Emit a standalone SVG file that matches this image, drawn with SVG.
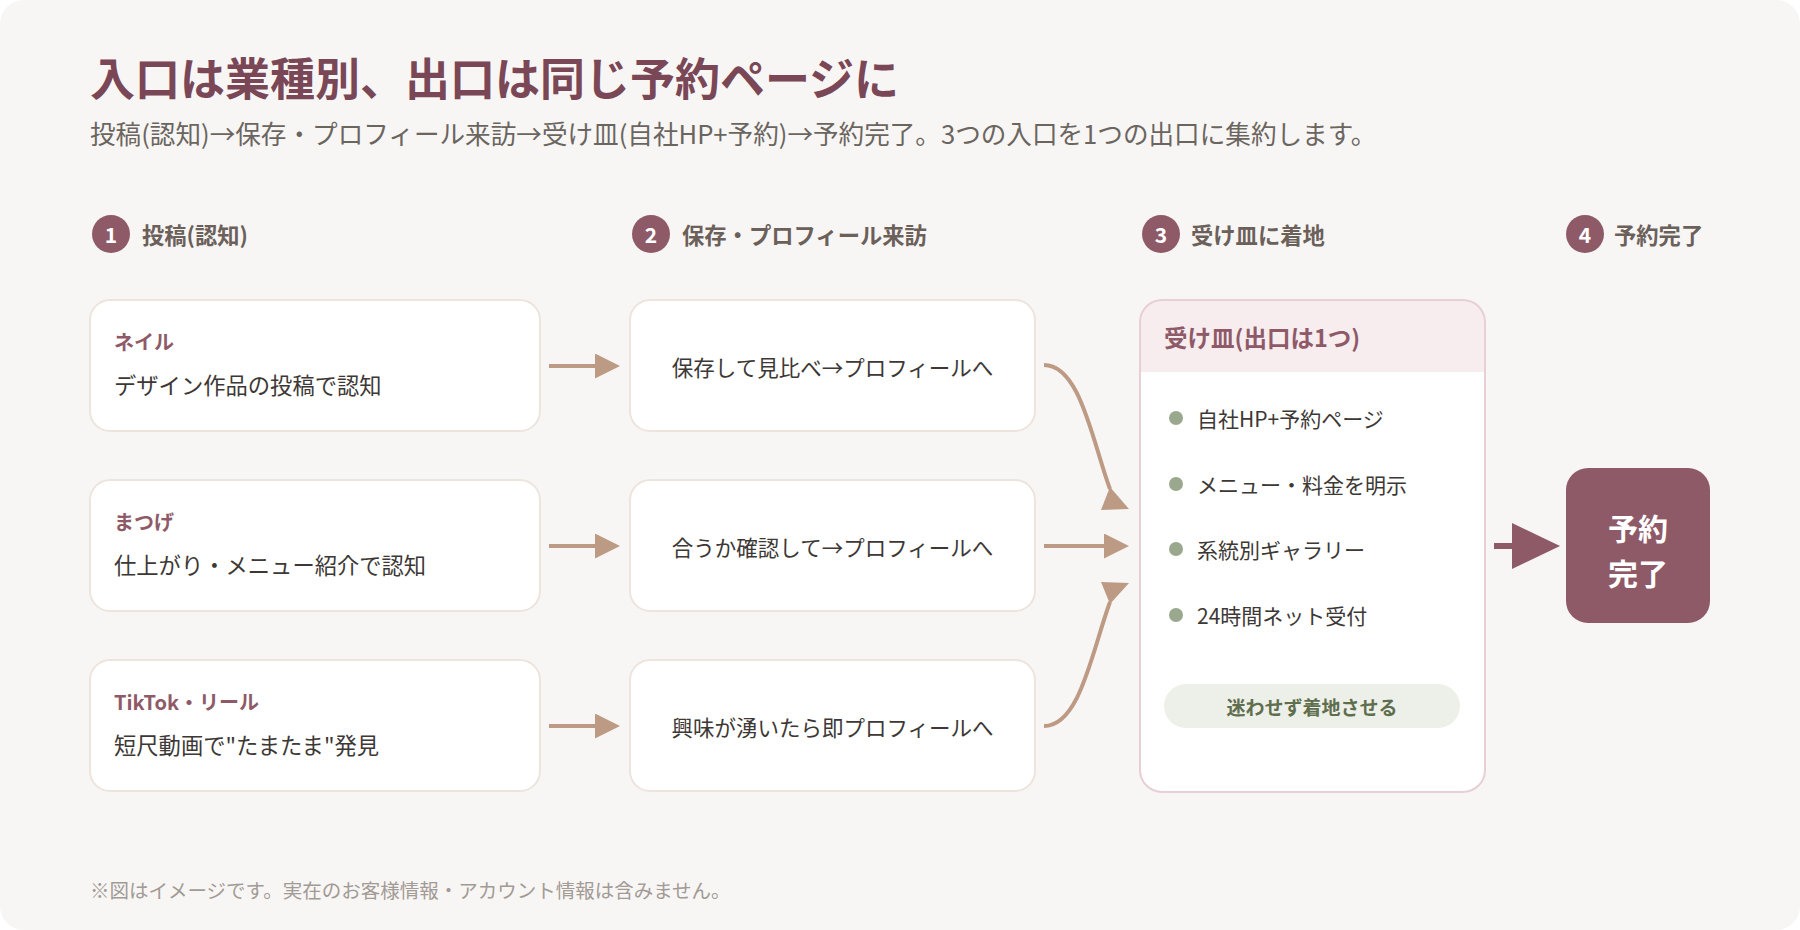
<svg xmlns="http://www.w3.org/2000/svg" width="1800" height="930" viewBox="0 0 1800 930">
<defs>
<style>
.jp{font-family:"Noto Sans CJK JP","Noto Sans",sans-serif;}
.title{font-size:45px;font-weight:700;fill:#7a4757;}
.sub{font-size:25.6px;fill:#6b6560;}
.steplbl{font-size:22.3px;font-weight:700;fill:#6b605a;}
.num{font-size:21px;font-weight:700;fill:#ffffff;}
.card{fill:#ffffff;stroke:#ede4de;stroke-width:2;}
.lbl{font-size:20px;font-weight:700;fill:#8e5a68;}
.desc{font-size:22.3px;fill:#3d3835;}
.mid{font-size:21.5px;fill:#3d3835;}
.bul{font-size:21px;fill:#3d3835;}
.dot{fill:#9aa88e;}
.maroon{fill:#8e5a68;}
.conn{stroke:#bc9a84;stroke-width:4;fill:none;}
.ahead{fill:#bc9a84;}
.foot{font-size:19.5px;fill:#a29a94;}
</style>
<marker id="arr" markerUnits="userSpaceOnUse" markerWidth="26" markerHeight="26" refX="0" refY="12.5" orient="auto" viewBox="0 0 26 26">
<path d="M0,0 L25,12.5 L0,25 Z" fill="#bc9a84"/>
</marker>
</defs>
<rect x="0" y="0" width="1800" height="930" rx="24" fill="#f8f6f4"/>
<g id="header" class="jp">
<text x="90" y="76" class="title" dominant-baseline="central">入口は業種別、出口は同じ予約ページに</text>
<text x="90" y="132" class="sub" dominant-baseline="central">投稿(認知)→保存・プロフィール来訪→受け皿(自社HP+予約)→予約完了。3つの入口を1つの出口に集約します。</text>
</g>
<g id="steps" class="jp">
<circle cx="111" cy="234" r="19" class="maroon"/><text x="111" y="234" class="num" text-anchor="middle" dominant-baseline="central">1</text>
<text x="142" y="234" class="steplbl" dominant-baseline="central">投稿(認知)</text>
<circle cx="651" cy="234" r="19" class="maroon"/><text x="651" y="234" class="num" text-anchor="middle" dominant-baseline="central">2</text>
<text x="682" y="234" class="steplbl" dominant-baseline="central">保存・プロフィール来訪</text>
<circle cx="1161" cy="234" r="19" class="maroon"/><text x="1161" y="234" class="num" text-anchor="middle" dominant-baseline="central">3</text>
<text x="1191" y="234" class="steplbl" dominant-baseline="central">受け皿に着地</text>
<circle cx="1585" cy="234" r="19" class="maroon"/><text x="1585" y="234" class="num" text-anchor="middle" dominant-baseline="central">4</text>
<text x="1614" y="234" class="steplbl" dominant-baseline="central">予約完了</text>
</g>
<g id="src-nail" class="jp">
<rect x="90" y="300" width="450" height="131" rx="20" class="card"/>
<text x="114" y="341" class="lbl" dominant-baseline="central">ネイル</text>
<text x="114" y="384" class="desc" dominant-baseline="central">デザイン作品の投稿で認知</text>
</g>
<g id="src-lash" class="jp">
<rect x="90" y="480" width="450" height="131" rx="20" class="card"/>
<text x="114" y="521" class="lbl" dominant-baseline="central">まつげ</text>
<text x="114" y="564" class="desc" dominant-baseline="central">仕上がり・メニュー紹介で認知</text>
</g>
<g id="src-tiktok" class="jp">
<rect x="90" y="660" width="450" height="131" rx="20" class="card"/>
<text x="114" y="701" class="lbl" dominant-baseline="central">TikTok・リール</text>
<text x="114" y="744" class="desc" dominant-baseline="central">短尺動画で"たまたま"発見</text>
</g>
<g id="mid-1" class="jp">
<rect x="630" y="300" width="405" height="131" rx="20" class="card"/>
<text x="832.5" y="366" class="mid" text-anchor="middle" dominant-baseline="central">保存して見比べ→プロフィールへ</text>
</g>
<g id="mid-2" class="jp">
<rect x="630" y="480" width="405" height="131" rx="20" class="card"/>
<text x="832.5" y="546" class="mid" text-anchor="middle" dominant-baseline="central">合うか確認して→プロフィールへ</text>
</g>
<g id="mid-3" class="jp">
<rect x="630" y="660" width="405" height="131" rx="20" class="card"/>
<text x="832.5" y="726" class="mid" text-anchor="middle" dominant-baseline="central">興味が湧いたら即プロフィールへ</text>
</g>
<g id="receiver" class="jp">
<rect x="1140" y="300" width="345" height="492" rx="22" fill="#ffffff"/>
<path d="M1140,372 V322 A22,22 0 0 1 1162,300 H1463 A22,22 0 0 1 1485,322 V372 Z" fill="#f7ecee"/>
<rect x="1140" y="300" width="345" height="492" rx="22" fill="none" stroke="#e8cfd6" stroke-width="2"/>
<text x="1164" y="337" font-size="23.5" font-weight="700" fill="#8e5a68" dominant-baseline="central">受け皿(出口は1つ)</text>
<circle cx="1176" cy="418" r="7" class="dot"/><text x="1197" y="418" class="bul" dominant-baseline="central">自社HP+予約ページ</text>
<circle cx="1176" cy="484" r="7" class="dot"/><text x="1197" y="484" class="bul" dominant-baseline="central">メニュー・料金を明示</text>
<circle cx="1176" cy="549" r="7" class="dot"/><text x="1197" y="549" class="bul" dominant-baseline="central">系統別ギャラリー</text>
<circle cx="1176" cy="615" r="7" class="dot"/><text x="1197" y="615" class="bul" dominant-baseline="central">24時間ネット受付</text>
<rect x="1164" y="684" width="296" height="44" rx="22" fill="#edf0e8"/>
<text x="1312" y="706" font-size="19" font-weight="700" fill="#5f6e4f" text-anchor="middle" dominant-baseline="central">迷わせず着地させる</text>
</g>
<g id="done" class="jp">
<rect x="1566" y="468" width="144" height="155" rx="22" class="maroon"/>
<text x="1638" y="527" font-size="30" font-weight="700" fill="#ffffff" text-anchor="middle" dominant-baseline="central">予約</text>
<text x="1638" y="572" font-size="30" font-weight="700" fill="#ffffff" text-anchor="middle" dominant-baseline="central">完了</text>
</g>
<g id="connectors">
<line x1="549" y1="366" x2="595" y2="366" class="conn" marker-end="url(#arr)"/>
<line x1="549" y1="546" x2="595" y2="546" class="conn" marker-end="url(#arr)"/>
<line x1="549" y1="726" x2="595" y2="726" class="conn" marker-end="url(#arr)"/>
<path d="M1044,365 C1080,365 1092,440 1110,489" class="conn"/>
<polygon points="1101,510 1129,509 1110,487" class="ahead"/>
<line x1="1044" y1="546" x2="1104" y2="546" class="conn" marker-end="url(#arr)"/>
<path d="M1044,726 C1080,726 1092,651 1110,602" class="conn"/>
<polygon points="1101,582 1129,583 1110,604" class="ahead"/>
<line x1="1494" y1="546" x2="1514" y2="546" stroke="#8e5a68" stroke-width="6"/>
<polygon points="1512,523 1560,546 1512,569" class="maroon"/>
</g>
<g id="footer" class="jp">
<text x="90" y="889" class="foot" dominant-baseline="central">※図はイメージです。実在のお客様情報・アカウント情報は含みません。</text>
</g>
</svg>
